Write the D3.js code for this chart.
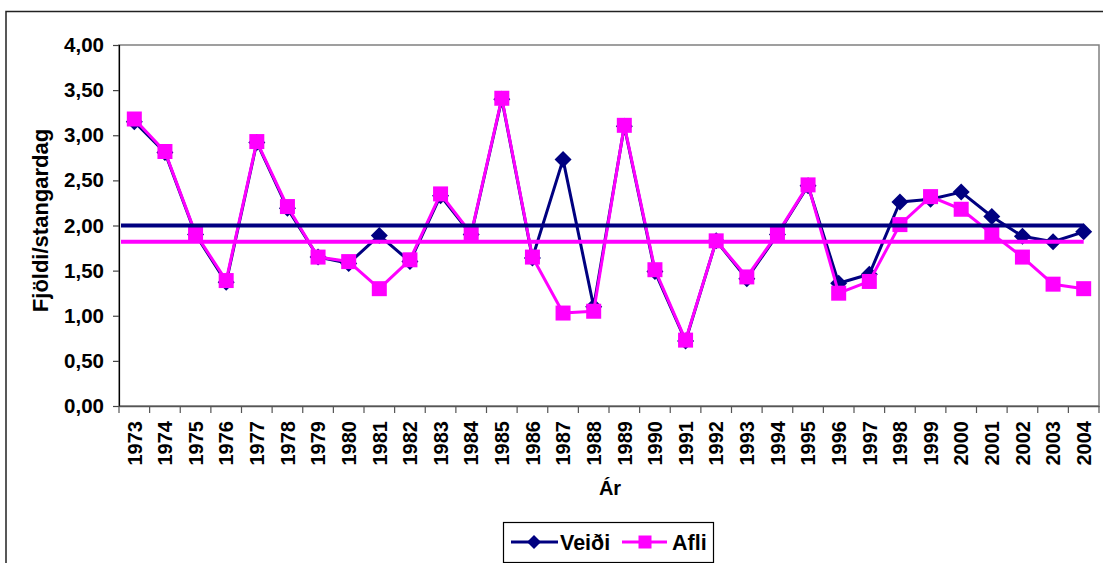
<!DOCTYPE html>
<html>
<head>
<meta charset="utf-8">
<script src="https://cdn.jsdelivr.net/npm/d3@7"></script>
<style>
  html, body { margin: 0; padding: 0; background: #fff; }
  svg { display: block; font-family: "Liberation Sans", Arial, sans-serif; font-weight: bold; }
</style>
</head>
<body>
<svg id="chart" width="1103" height="563"></svg>
<script>
const years = ["1973","1974","1975","1976","1977","1978","1979","1980","1981","1982","1983","1984","1985","1986","1987","1988","1989","1990","1991","1992","1993","1994","1995","1996","1997","1998","1999","2000","2001","2002","2003","2004"];
const veidi = [3.15, 2.81, 1.90, 1.37, 2.92, 2.19, 1.65, 1.58, 1.89, 1.60, 2.33, 1.90, 3.40, 1.64, 2.73, 1.10, 3.10, 1.49, 0.72, 1.83, 1.41, 1.90, 2.44, 1.36, 1.46, 2.26, 2.29, 2.37, 2.10, 1.88, 1.82, 1.93];
const afli  = [3.18, 2.82, 1.91, 1.39, 2.93, 2.21, 1.65, 1.60, 1.30, 1.62, 2.35, 1.91, 3.41, 1.65, 1.03, 1.05, 3.11, 1.51, 0.73, 1.83, 1.43, 1.91, 2.45, 1.25, 1.38, 2.01, 2.32, 2.18, 1.91, 1.65, 1.35, 1.30];
const veidiAvg = 2.00;
const afliAvg = 1.82;
const yTicks = [0, 0.5, 1, 1.5, 2, 2.5, 3, 3.5, 4];
const seriesNames = ["Veiði", "Afli"];
const yTitle = "Fjöldi/stangardag";
const xTitle = "Ár";

const NAVY = "#000080", MAG = "#FF00FF";
const svg = d3.select("#chart");

// outer chart border
svg.append("rect").attr("x", 6).attr("y", 11.5).attr("width", 1120).attr("height", 600)
  .attr("fill", "#fff").attr("stroke", "#222").attr("stroke-width", 1.5);

const L = 119, R = 1099, T = 45, B = 406;
const x = d3.scaleBand().domain(years).range([L, R]).padding(0);
const y = d3.scaleLinear().domain([0, 4]).range([B, T]);
const cx = d => x(d) + x.bandwidth() / 2;

// plot area border
svg.append("rect").attr("x", L).attr("y", T).attr("width", R - L).attr("height", B - T)
  .attr("fill", "#fff").attr("stroke", "#808080").attr("stroke-width", 1.5);

// Y axis
const fmt = v => d3.format(".2f")(v).replace(".", ",");
const ya = svg.append("g").attr("transform", `translate(${L},0)`)
  .call(d3.axisLeft(y).tickValues(yTicks).tickFormat(fmt).tickSize(6).tickPadding(9));
ya.select(".domain").attr("stroke", "#000").attr("stroke-width", 1.2);
ya.selectAll(".tick line").attr("stroke", "#444").attr("stroke-width", 1.2);
ya.selectAll(".tick text").attr("font-size", 20.5).attr("font-weight", "bold").attr("fill", "#000")
  .attr("font-family", "'Liberation Sans', Arial, sans-serif");

// X axis
const xa = svg.append("g").attr("transform", `translate(0,${B})`)
  .call(d3.axisBottom(x).tickSize(0).tickPadding(0));
xa.select(".domain").attr("stroke", "#555").attr("stroke-width", 1.5);
xa.selectAll(".tick text")
  .attr("font-size", 20).attr("font-weight", "bold").attr("fill", "#000")
  .attr("font-family", "'Liberation Sans', Arial, sans-serif")
  .attr("text-anchor", "end")
  .attr("transform", "translate(0,15) rotate(-90)")
  .attr("x", 0).attr("y", 0).attr("dy", "0.36em");
// boundary ticks
const bounds = years.map(d => x(d)).concat([x.range()[1]]);
svg.append("g").selectAll("line").data(bounds).join("line")
  .attr("x1", d => d).attr("x2", d => d).attr("y1", B).attr("y2", B + 7)
  .attr("stroke", "#555").attr("stroke-width", 1.2);

// axis titles
svg.append("text").attr("transform", `translate(48,${(T + B) / 2 - 5}) rotate(-90)`)
  .attr("text-anchor", "middle").attr("font-size", 22).text(yTitle);
svg.append("text").attr("x", 610).attr("y", 495).attr("text-anchor", "middle")
  .attr("font-size", 20).text(xTitle);

// series
const line = d3.line().x((d, i) => cx(years[i])).y(d => y(d));
svg.append("path").datum(veidi).attr("d", line).attr("fill", "none")
  .attr("stroke", NAVY).attr("stroke-width", 3).attr("stroke-linejoin", "round");
const diamond = s => `M0,${-s}L${s},0L0,${s}L${-s},0Z`;
svg.append("g").selectAll("path").data(veidi).join("path")
  .attr("transform", (d, i) => `translate(${cx(years[i])},${y(d)})`)
  .attr("d", diamond(8.5)).attr("fill", NAVY);

svg.append("path").datum(afli).attr("d", line).attr("fill", "none")
  .attr("stroke", MAG).attr("stroke-width", 3).attr("stroke-linejoin", "round");
svg.append("g").selectAll("rect").data(afli).join("rect")
  .attr("x", (d, i) => cx(years[i]) - 7.5).attr("y", d => y(d) - 7.5)
  .attr("width", 15).attr("height", 15).attr("fill", MAG);

// average lines
const x0 = L + 2, x1 = cx(years[years.length - 1]);
svg.append("line").attr("x1", x0).attr("x2", x1).attr("y1", y(veidiAvg)).attr("y2", y(veidiAvg))
  .attr("stroke", NAVY).attr("stroke-width", 4);
svg.append("line").attr("x1", x0).attr("x2", x1).attr("y1", y(afliAvg)).attr("y2", y(afliAvg))
  .attr("stroke", MAG).attr("stroke-width", 4);

// legend
const lg = svg.append("g");
lg.append("rect").attr("x", 503.5).attr("y", 522.5).attr("width", 210).attr("height", 40)
  .attr("fill", "#fff").attr("stroke", "#000").attr("stroke-width", 1.2);
const ly = 542;
lg.append("line").attr("x1", 511).attr("x2", 558).attr("y1", ly).attr("y2", ly).attr("stroke", NAVY).attr("stroke-width", 3);
lg.append("path").attr("transform", `translate(534,${ly})`).attr("d", diamond(7)).attr("fill", NAVY);
lg.append("text").attr("x", 560).attr("y", 550).attr("font-size", 21.5).text(seriesNames[0]);
lg.append("line").attr("x1", 622).attr("x2", 667).attr("y1", ly).attr("y2", ly).attr("stroke", MAG).attr("stroke-width", 3);
lg.append("rect").attr("x", 645 - 6.5).attr("y", ly - 6.5).attr("width", 13).attr("height", 13).attr("fill", MAG);
lg.append("text").attr("x", 672).attr("y", 550).attr("font-size", 21.5).text(seriesNames[1]);
</script>
</body>
</html>
